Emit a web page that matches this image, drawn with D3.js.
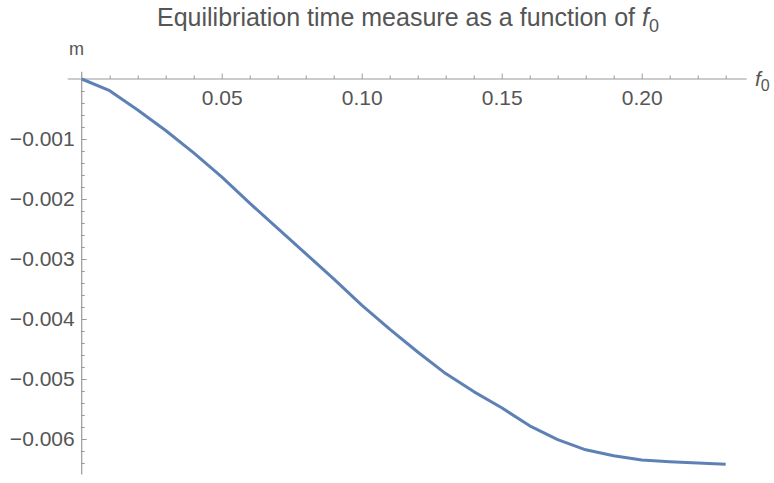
<!DOCTYPE html>
<html>
<head>
<meta charset="utf-8">
<script src="https://cdn.jsdelivr.net/npm/d3@7"></script>
<style>
  html, body { margin: 0; padding: 0; background: #fff; }
  svg { display: block; font-family: "Liberation Sans", Arial, sans-serif; }
</style>
</head>
<body>
<svg id="chart" width="774" height="483"></svg>
<script>
// Equilibriation time measure m sampled at f0 = 0.00, 0.01, ... 0.23
const f0Values = [0.00, 0.01, 0.02, 0.03, 0.04, 0.05, 0.06, 0.07, 0.08, 0.09, 0.10, 0.11,
                  0.12, 0.13, 0.14, 0.15, 0.16, 0.17, 0.18, 0.19, 0.20, 0.21, 0.22, 0.23];
const mValues = [0, -0.000195, -0.000517, -0.000858, -0.00123, -0.00163, -0.00207, -0.00249,
                 -0.00291, -0.00333, -0.00377, -0.00417, -0.00455, -0.00491, -0.00521, -0.00548,
                 -0.00578, -0.00601, -0.00618, -0.00628, -0.00635, -0.00638, -0.00640, -0.00642];

const xMajorTicks = [0.05, 0.10, 0.15, 0.20];
const yMajorTicks = [-0.001, -0.002, -0.003, -0.004, -0.005, -0.006];
const xMinorTicks = [0.01, 0.02, 0.03, 0.04, 0.06, 0.07, 0.08, 0.09, 0.11, 0.12, 0.13, 0.14,
                     0.16, 0.17, 0.18, 0.19, 0.21, 0.22, 0.23];
const yMinorTicks = [-0.0002, -0.0004, -0.0006, -0.0008, -0.0012, -0.0014, -0.0016, -0.0018,
                     -0.0022, -0.0024, -0.0026, -0.0028, -0.0032, -0.0034, -0.0036, -0.0038,
                     -0.0042, -0.0044, -0.0046, -0.0048, -0.0052, -0.0054, -0.0056, -0.0058,
                     -0.0062, -0.0064];
const xAxisExtent = [-0.005, 0.2375];
const yAxisExtent = [0.00012, -0.00659];

const svg = d3.select("#chart");
const axisColor = "#9a9a9a";
const labelColor = "#555555";
const tickFont = "21px";

const x = d3.scaleLinear().domain([0, 0.20]).range([81.7, 641.7]);
const y = d3.scaleLinear().domain([0, -0.006]).range([79, 439]);

// Title
const title = svg.append("text")
  .attr("x", 408).attr("y", 26)
  .attr("text-anchor", "middle")
  .attr("fill", labelColor)
  .style("font-size", "25px");
title.append("tspan").text("Equilibriation time measure as a function of ");
title.append("tspan").style("font-style", "italic").text("f");
title.append("tspan").attr("dy", 6).style("font-size", "18px").text("0");

// Axis lines
svg.append("line")
  .attr("x1", x(xAxisExtent[0])).attr("x2", x(xAxisExtent[1]))
  .attr("y1", y(0)).attr("y2", y(0))
  .attr("stroke", axisColor).attr("stroke-width", 1.2);
svg.append("line")
  .attr("x1", x(0)).attr("x2", x(0))
  .attr("y1", y(yAxisExtent[0])).attr("y2", y(yAxisExtent[1]))
  .attr("stroke", axisColor).attr("stroke-width", 1.2);

// x axis: ticks point up, labels below
const xAxisMajor = d3.axisBottom(x).tickValues(xMajorTicks)
  .tickFormat(d3.format(".2f")).tickSizeInner(-5.5).tickSizeOuter(0).tickPadding(11);
const xAxisMinor = d3.axisBottom(x).tickValues(xMinorTicks)
  .tickFormat("").tickSizeInner(-3.5).tickSizeOuter(0);

const gx = svg.append("g").attr("transform", `translate(0,${y(0)})`).call(xAxisMajor);
svg.append("g").attr("transform", `translate(0,${y(0)})`).call(xAxisMinor)
  .call(g => g.select(".domain").remove())
  .selectAll("line").attr("stroke", axisColor);
gx.select(".domain").remove();
gx.selectAll("line").attr("stroke", axisColor);
gx.selectAll("text").attr("fill", labelColor)
  .style("font-size", tickFont).style("font-family", "'Liberation Sans', Arial, sans-serif");

// y axis: ticks point right, labels left
const yAxisMajor = d3.axisLeft(y).tickValues(yMajorTicks)
  .tickFormat(d3.format(".3f")).tickSizeInner(-5).tickSizeOuter(0).tickPadding(7);
const yAxisMinor = d3.axisLeft(y).tickValues(yMinorTicks)
  .tickFormat("").tickSizeInner(-3).tickSizeOuter(0);

const gy = svg.append("g").attr("transform", `translate(${x(0)},0)`).call(yAxisMajor);
svg.append("g").attr("transform", `translate(${x(0)},0)`).call(yAxisMinor)
  .call(g => g.select(".domain").remove())
  .selectAll("line").attr("stroke", axisColor);
gy.select(".domain").remove();
gy.selectAll("line").attr("stroke", axisColor);
gy.selectAll("text").attr("fill", labelColor)
  .style("font-size", tickFont).style("font-family", "'Liberation Sans', Arial, sans-serif");

// Axis labels
svg.append("text")
  .attr("x", 69).attr("y", 55)
  .attr("fill", labelColor)
  .style("font-size", "18px")
  .text("m");

const xLabel = svg.append("text")
  .attr("x", 755).attr("y", 86)
  .attr("fill", labelColor)
  .style("font-size", "21px");
xLabel.append("tspan").style("font-style", "italic").text("f");
xLabel.append("tspan").attr("dy", 5).style("font-size", "16px").text("0");

// Data curve
const line = d3.line()
  .x((d, i) => x(f0Values[i]))
  .y(d => y(d));

svg.append("path")
  .datum(mValues)
  .attr("d", line)
  .attr("fill", "none")
  .attr("stroke", "#5e81b5")
  .attr("stroke-width", 3)
  .attr("stroke-linejoin", "round");
</script>
</body>
</html>
